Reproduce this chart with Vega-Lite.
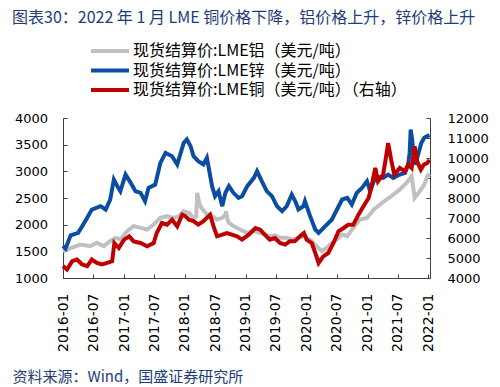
{
  "$schema": "https://vega.github.io/schema/vega-lite/v6.json",
  "width": 367,
  "height": 160,
  "autosize": "none",
  "padding": {"left": 63, "top": 118, "right": 70, "bottom": 109},
  "background": "white",
  "config": {
    "view": {"stroke": null},
    "font": "DejaVu Sans",
    "axis": {"grid": false, "domainColor": "#404040", "tickColor": "#404040", "labelColor": "#000000", "labelFont": "DejaVu Sans", "labelFontSize": 13}
  },
  "title": {
    "text": "图表30：2022 年 1 月 LME 铜价格下降，铝价格上升，锌价格上升",
    "anchor": "start",
    "frame": "group",
    "offset": 17,
    "dx": -51,
    "font": "Noto Sans CJK SC",
    "fontSize": 16,
    "fontWeight": "normal",
    "color": "#1E3C78"
  },
  "data": {
    "values": [
      {"d": "2016-01-01", "s": "Al", "v": 1500},
      {"d": "2016-02-16", "s": "Al", "v": 1560},
      {"d": "2016-04-13", "s": "Al", "v": 1628},
      {"d": "2016-06-13", "s": "Al", "v": 1597},
      {"d": "2016-07-22", "s": "Al", "v": 1660},
      {"d": "2016-09-01", "s": "Al", "v": 1597},
      {"d": "2016-10-10", "s": "Al", "v": 1690},
      {"d": "2016-11-10", "s": "Al", "v": 1753},
      {"d": "2016-12-10", "s": "Al", "v": 1722},
      {"d": "2017-01-19", "s": "Al", "v": 1878},
      {"d": "2017-02-28", "s": "Al", "v": 1972},
      {"d": "2017-04-10", "s": "Al", "v": 1940},
      {"d": "2017-05-19", "s": "Al", "v": 1909},
      {"d": "2017-06-28", "s": "Al", "v": 2003},
      {"d": "2017-08-07", "s": "Al", "v": 2128},
      {"d": "2017-09-16", "s": "Al", "v": 2159},
      {"d": "2017-10-25", "s": "Al", "v": 2128},
      {"d": "2017-11-25", "s": "Al", "v": 2159},
      {"d": "2017-12-25", "s": "Al", "v": 2253},
      {"d": "2018-01-25", "s": "Al", "v": 2222},
      {"d": "2018-02-22", "s": "Al", "v": 2128},
      {"d": "2018-03-10", "s": "Al", "v": 2150},
      {"d": "2018-03-16", "s": "Al", "v": 2597},
      {"d": "2018-03-28", "s": "Al", "v": 2409},
      {"d": "2018-04-10", "s": "Al", "v": 2315},
      {"d": "2018-05-13", "s": "Al", "v": 2190},
      {"d": "2018-06-13", "s": "Al", "v": 2159},
      {"d": "2018-07-13", "s": "Al", "v": 2097},
      {"d": "2018-08-13", "s": "Al", "v": 2128},
      {"d": "2018-09-01", "s": "Al", "v": 2180},
      {"d": "2018-09-04", "s": "Al", "v": 2253},
      {"d": "2018-09-13", "s": "Al", "v": 2100},
      {"d": "2018-09-22", "s": "Al", "v": 2034},
      {"d": "2018-10-19", "s": "Al", "v": 1972},
      {"d": "2018-11-28", "s": "Al", "v": 1909},
      {"d": "2019-01-10", "s": "Al", "v": 1847},
      {"d": "2019-02-19", "s": "Al", "v": 1878},
      {"d": "2019-03-28", "s": "Al", "v": 1847},
      {"d": "2019-04-25", "s": "Al", "v": 1816},
      {"d": "2019-05-25", "s": "Al", "v": 1784},
      {"d": "2019-06-25", "s": "Al", "v": 1797},
      {"d": "2019-07-25", "s": "Al", "v": 1753},
      {"d": "2019-09-04", "s": "Al", "v": 1753},
      {"d": "2019-10-04", "s": "Al", "v": 1724},
      {"d": "2019-11-13", "s": "Al", "v": 1753},
      {"d": "2019-12-13", "s": "Al", "v": 1784},
      {"d": "2020-01-01", "s": "Al", "v": 1753},
      {"d": "2020-02-01", "s": "Al", "v": 1690},
      {"d": "2020-03-01", "s": "Al", "v": 1597},
      {"d": "2020-04-01", "s": "Al", "v": 1503},
      {"d": "2020-05-01", "s": "Al", "v": 1565},
      {"d": "2020-06-01", "s": "Al", "v": 1660},
      {"d": "2020-07-01", "s": "Al", "v": 1722},
      {"d": "2020-08-01", "s": "Al", "v": 1816},
      {"d": "2020-09-01", "s": "Al", "v": 1784},
      {"d": "2020-10-07", "s": "Al", "v": 1940},
      {"d": "2020-11-16", "s": "Al", "v": 2097},
      {"d": "2020-12-28", "s": "Al", "v": 2128},
      {"d": "2021-02-07", "s": "Al", "v": 2284},
      {"d": "2021-03-16", "s": "Al", "v": 2378},
      {"d": "2021-04-25", "s": "Al", "v": 2472},
      {"d": "2021-06-04", "s": "Al", "v": 2565},
      {"d": "2021-07-13", "s": "Al", "v": 2659},
      {"d": "2021-08-22", "s": "Al", "v": 2784},
      {"d": "2021-09-22", "s": "Al", "v": 2909},
      {"d": "2021-10-10", "s": "Al", "v": 2503},
      {"d": "2021-11-10", "s": "Al", "v": 2628},
      {"d": "2021-12-07", "s": "Al", "v": 2753},
      {"d": "2021-12-25", "s": "Al", "v": 2909},
      {"d": "2022-01-07", "s": "Al", "v": 2950},

      {"d": "2016-01-01", "s": "Zn", "v": 1600},
      {"d": "2016-01-16", "s": "Zn", "v": 1550},
      {"d": "2016-02-16", "s": "Zn", "v": 1800},
      {"d": "2016-04-01", "s": "Zn", "v": 1847},
      {"d": "2016-05-13", "s": "Zn", "v": 2065},
      {"d": "2016-06-22", "s": "Zn", "v": 2284},
      {"d": "2016-08-13", "s": "Zn", "v": 2347},
      {"d": "2016-09-13", "s": "Zn", "v": 2284},
      {"d": "2016-10-10", "s": "Zn", "v": 2470},
      {"d": "2016-11-01", "s": "Zn", "v": 2847},
      {"d": "2016-11-22", "s": "Zn", "v": 2722},
      {"d": "2016-12-10", "s": "Zn", "v": 2628},
      {"d": "2017-01-10", "s": "Zn", "v": 2940},
      {"d": "2017-02-10", "s": "Zn", "v": 2784},
      {"d": "2017-03-10", "s": "Zn", "v": 2628},
      {"d": "2017-04-10", "s": "Zn", "v": 2597},
      {"d": "2017-05-07", "s": "Zn", "v": 2440},
      {"d": "2017-05-28", "s": "Zn", "v": 2690},
      {"d": "2017-07-07", "s": "Zn", "v": 2753},
      {"d": "2017-08-07", "s": "Zn", "v": 3159},
      {"d": "2017-09-07", "s": "Zn", "v": 3347},
      {"d": "2017-10-16", "s": "Zn", "v": 3284},
      {"d": "2017-11-16", "s": "Zn", "v": 3128},
      {"d": "2017-12-25", "s": "Zn", "v": 3534},
      {"d": "2018-01-13", "s": "Zn", "v": 3597},
      {"d": "2018-02-04", "s": "Zn", "v": 3472},
      {"d": "2018-02-22", "s": "Zn", "v": 3284},
      {"d": "2018-03-22", "s": "Zn", "v": 3190},
      {"d": "2018-04-22", "s": "Zn", "v": 3128},
      {"d": "2018-05-13", "s": "Zn", "v": 3253},
      {"d": "2018-06-13", "s": "Zn", "v": 2722},
      {"d": "2018-07-01", "s": "Zn", "v": 2534},
      {"d": "2018-07-22", "s": "Zn", "v": 2628},
      {"d": "2018-08-13", "s": "Zn", "v": 2347},
      {"d": "2018-09-01", "s": "Zn", "v": 2597},
      {"d": "2018-09-22", "s": "Zn", "v": 2722},
      {"d": "2018-10-19", "s": "Zn", "v": 2597},
      {"d": "2018-11-19", "s": "Zn", "v": 2503},
      {"d": "2018-12-10", "s": "Zn", "v": 2534},
      {"d": "2019-01-10", "s": "Zn", "v": 2722},
      {"d": "2019-02-19", "s": "Zn", "v": 2878},
      {"d": "2019-03-10", "s": "Zn", "v": 3003},
      {"d": "2019-04-07", "s": "Zn", "v": 2815},
      {"d": "2019-05-07", "s": "Zn", "v": 2628},
      {"d": "2019-06-07", "s": "Zn", "v": 2534},
      {"d": "2019-07-07", "s": "Zn", "v": 2347},
      {"d": "2019-08-07", "s": "Zn", "v": 2253},
      {"d": "2019-09-04", "s": "Zn", "v": 2347},
      {"d": "2019-10-04", "s": "Zn", "v": 2565},
      {"d": "2019-10-25", "s": "Zn", "v": 2440},
      {"d": "2019-11-13", "s": "Zn", "v": 2284},
      {"d": "2019-12-13", "s": "Zn", "v": 2347},
      {"d": "2019-12-22", "s": "Zn", "v": 2440},
      {"d": "2020-01-22", "s": "Zn", "v": 2159},
      {"d": "2020-02-22", "s": "Zn", "v": 1909},
      {"d": "2020-03-13", "s": "Zn", "v": 1847},
      {"d": "2020-04-22", "s": "Zn", "v": 1972},
      {"d": "2020-06-01", "s": "Zn", "v": 2097},
      {"d": "2020-07-01", "s": "Zn", "v": 2284},
      {"d": "2020-08-01", "s": "Zn", "v": 2472},
      {"d": "2020-09-01", "s": "Zn", "v": 2503},
      {"d": "2020-09-28", "s": "Zn", "v": 2378},
      {"d": "2020-10-28", "s": "Zn", "v": 2597},
      {"d": "2020-11-28", "s": "Zn", "v": 2690},
      {"d": "2020-12-28", "s": "Zn", "v": 2815},
      {"d": "2021-01-16", "s": "Zn", "v": 2628},
      {"d": "2021-02-07", "s": "Zn", "v": 2815},
      {"d": "2021-03-04", "s": "Zn", "v": 2900},
      {"d": "2021-04-04", "s": "Zn", "v": 2878},
      {"d": "2021-05-04", "s": "Zn", "v": 2940},
      {"d": "2021-06-04", "s": "Zn", "v": 2878},
      {"d": "2021-07-13", "s": "Zn", "v": 2940},
      {"d": "2021-08-13", "s": "Zn", "v": 2972},
      {"d": "2021-09-01", "s": "Zn", "v": 3128},
      {"d": "2021-09-10", "s": "Zn", "v": 3350},
      {"d": "2021-09-16", "s": "Zn", "v": 3784},
      {"d": "2021-09-25", "s": "Zn", "v": 3597},
      {"d": "2021-10-10", "s": "Zn", "v": 3128},
      {"d": "2021-10-28", "s": "Zn", "v": 3284},
      {"d": "2021-11-19", "s": "Zn", "v": 3534},
      {"d": "2021-12-07", "s": "Zn", "v": 3628},
      {"d": "2021-12-25", "s": "Zn", "v": 3660},
      {"d": "2022-01-07", "s": "Zn", "v": 3680},

      {"d": "2016-01-01", "s": "Cu", "v": 4592},
      {"d": "2016-01-25", "s": "Cu", "v": 4425},
      {"d": "2016-02-25", "s": "Cu", "v": 4842},
      {"d": "2016-03-25", "s": "Cu", "v": 4925},
      {"d": "2016-04-25", "s": "Cu", "v": 4675},
      {"d": "2016-05-25", "s": "Cu", "v": 4592},
      {"d": "2016-06-22", "s": "Cu", "v": 4925},
      {"d": "2016-07-22", "s": "Cu", "v": 4758},
      {"d": "2016-08-22", "s": "Cu", "v": 4675},
      {"d": "2016-09-22", "s": "Cu", "v": 4758},
      {"d": "2016-10-22", "s": "Cu", "v": 4842},
      {"d": "2016-11-04", "s": "Cu", "v": 5750},
      {"d": "2016-12-01", "s": "Cu", "v": 5500},
      {"d": "2017-01-01", "s": "Cu", "v": 5917},
      {"d": "2017-02-01", "s": "Cu", "v": 6083},
      {"d": "2017-02-28", "s": "Cu", "v": 5833},
      {"d": "2017-04-10", "s": "Cu", "v": 5750},
      {"d": "2017-05-19", "s": "Cu", "v": 5583},
      {"d": "2017-06-28", "s": "Cu", "v": 5750},
      {"d": "2017-07-16", "s": "Cu", "v": 6250},
      {"d": "2017-08-16", "s": "Cu", "v": 6750},
      {"d": "2017-09-16", "s": "Cu", "v": 6667},
      {"d": "2017-10-16", "s": "Cu", "v": 6917},
      {"d": "2017-11-16", "s": "Cu", "v": 6583},
      {"d": "2017-12-16", "s": "Cu", "v": 7167},
      {"d": "2018-01-04", "s": "Cu", "v": 7092},
      {"d": "2018-01-25", "s": "Cu", "v": 6917},
      {"d": "2018-02-22", "s": "Cu", "v": 6842},
      {"d": "2018-03-22", "s": "Cu", "v": 6667},
      {"d": "2018-04-22", "s": "Cu", "v": 6842},
      {"d": "2018-06-01", "s": "Cu", "v": 7167},
      {"d": "2018-06-22", "s": "Cu", "v": 6583},
      {"d": "2018-07-13", "s": "Cu", "v": 6083},
      {"d": "2018-08-13", "s": "Cu", "v": 6167},
      {"d": "2018-09-10", "s": "Cu", "v": 6250},
      {"d": "2018-10-10", "s": "Cu", "v": 6167},
      {"d": "2018-11-10", "s": "Cu", "v": 6083},
      {"d": "2018-12-10", "s": "Cu", "v": 5917},
      {"d": "2019-01-19", "s": "Cu", "v": 6167},
      {"d": "2019-02-28", "s": "Cu", "v": 6500},
      {"d": "2019-03-28", "s": "Cu", "v": 6417},
      {"d": "2019-04-25", "s": "Cu", "v": 6167},
      {"d": "2019-05-25", "s": "Cu", "v": 5917},
      {"d": "2019-06-25", "s": "Cu", "v": 6000},
      {"d": "2019-07-25", "s": "Cu", "v": 5750},
      {"d": "2019-08-25", "s": "Cu", "v": 5667},
      {"d": "2019-09-22", "s": "Cu", "v": 5833},
      {"d": "2019-10-22", "s": "Cu", "v": 5833},
      {"d": "2019-11-22", "s": "Cu", "v": 6083},
      {"d": "2019-12-16", "s": "Cu", "v": 6250},
      {"d": "2020-01-01", "s": "Cu", "v": 5917},
      {"d": "2020-02-01", "s": "Cu", "v": 5750},
      {"d": "2020-02-22", "s": "Cu", "v": 5250},
      {"d": "2020-03-13", "s": "Cu", "v": 4750},
      {"d": "2020-04-10", "s": "Cu", "v": 5083},
      {"d": "2020-05-10", "s": "Cu", "v": 5250},
      {"d": "2020-06-10", "s": "Cu", "v": 5750},
      {"d": "2020-07-10", "s": "Cu", "v": 6333},
      {"d": "2020-08-10", "s": "Cu", "v": 6500},
      {"d": "2020-09-07", "s": "Cu", "v": 6667},
      {"d": "2020-10-07", "s": "Cu", "v": 6667},
      {"d": "2020-11-07", "s": "Cu", "v": 7167},
      {"d": "2020-12-07", "s": "Cu", "v": 7583},
      {"d": "2021-01-07", "s": "Cu", "v": 8000},
      {"d": "2021-01-25", "s": "Cu", "v": 8600},
      {"d": "2021-02-16", "s": "Cu", "v": 9500},
      {"d": "2021-03-04", "s": "Cu", "v": 8833},
      {"d": "2021-04-04", "s": "Cu", "v": 9167},
      {"d": "2021-04-25", "s": "Cu", "v": 10250},
      {"d": "2021-05-04", "s": "Cu", "v": 10750},
      {"d": "2021-05-22", "s": "Cu", "v": 9917},
      {"d": "2021-06-10", "s": "Cu", "v": 9167},
      {"d": "2021-07-13", "s": "Cu", "v": 9500},
      {"d": "2021-08-13", "s": "Cu", "v": 9333},
      {"d": "2021-09-01", "s": "Cu", "v": 9667},
      {"d": "2021-09-22", "s": "Cu", "v": 9500},
      {"d": "2021-10-10", "s": "Cu", "v": 10583},
      {"d": "2021-10-25", "s": "Cu", "v": 9833},
      {"d": "2021-11-16", "s": "Cu", "v": 9417},
      {"d": "2021-12-04", "s": "Cu", "v": 9667},
      {"d": "2021-12-25", "s": "Cu", "v": 9750},
      {"d": "2022-01-07", "s": "Cu", "v": 9900}
    ]
  },
  "encoding": {
    "x": {
      "field": "d",
      "type": "temporal",
      "scale": {"type": "utc", "domain": [{"year": 2016, "month": 1, "date": 1, "utc": true}, {"year": 2022, "month": 1, "date": 10, "utc": true}]},
      "axis": {
        "values": [
          {"year": 2016, "month": 1, "date": 1, "utc": true},
          {"year": 2016, "month": 7, "date": 1, "utc": true},
          {"year": 2017, "month": 1, "date": 1, "utc": true},
          {"year": 2017, "month": 7, "date": 1, "utc": true},
          {"year": 2018, "month": 1, "date": 1, "utc": true},
          {"year": 2018, "month": 7, "date": 1, "utc": true},
          {"year": 2019, "month": 1, "date": 1, "utc": true},
          {"year": 2019, "month": 7, "date": 1, "utc": true},
          {"year": 2020, "month": 1, "date": 1, "utc": true},
          {"year": 2020, "month": 7, "date": 1, "utc": true},
          {"year": 2021, "month": 1, "date": 1, "utc": true},
          {"year": 2021, "month": 7, "date": 1, "utc": true},
          {"year": 2022, "month": 1, "date": 1, "utc": true}
        ],
        "format": "%Y-%m",
        "labelAngle": -90,
        "labelFontSize": 14,
        "tickSize": -4,
        "labelPadding": 19,
        "labelOverlap": false,
        "labelFlush": false,
        "title": "资料来源：Wind，国盛证券研究所",
        "titleFont": "Noto Sans CJK SC",
        "titleFontSize": 15,
        "titleFontWeight": "normal",
        "titleColor": "#1E3C78",
        "titleAnchor": null,
        "titleAlign": "left",
        "titleBaseline": "middle",
        "titleX": -51,
        "titleY": 98
      }
    },
    "color": {
      "field": "s",
      "type": "nominal",
      "scale": {"domain": ["Al", "Zn", "Cu"], "range": ["#C0C0C0", "#0B4DA2", "#C00000"]},
      "legend": {
        "title": null,
        "orient": "none",
        "legendX": 39,
        "legendY": -75,
        "symbolType": "M-4,0H4",
        "symbolSize": 90,
        "symbolStrokeWidth": 4,
        "symbolFillColor": "transparent",
        "labelFont": "Noto Sans CJK SC",
        "labelFontSize": 16,
        "labelColor": "#000000",
        "labelLimit": 400,
        "labelOffset": 15,
        "rowPadding": 3.5,
        "labelExpr": "datum.value == 'Al' ? '现货结算价:LME铝（美元/吨）' : datum.value == 'Zn' ? '现货结算价:LME锌（美元/吨）' : '现货结算价:LME铜（美元/吨）（右轴）'"
      }
    }
  },
  "layer": [
    {
      "transform": [{"filter": "datum.s != 'Cu'"}],
      "mark": {"type": "line", "strokeWidth": 4},
      "encoding": {
        "y": {
          "field": "v",
          "type": "quantitative",
          "scale": {"domain": [1000, 4000], "nice": false, "zero": false},
          "axis": {"values": [1000, 1500, 2000, 2500, 3000, 3500, 4000], "format": "d", "title": null, "tickSize": -4, "labelPadding": 19.5}
        }
      }
    },
    {
      "transform": [{"filter": "datum.s == 'Cu'"}],
      "mark": {"type": "line", "strokeWidth": 4},
      "encoding": {
        "y": {
          "field": "v",
          "type": "quantitative",
          "scale": {"domain": [4000, 12000], "nice": false, "zero": false},
          "axis": {"orient": "right", "values": [4000, 5000, 6000, 7000, 8000, 9000, 10000, 11000, 12000], "format": "d", "title": null, "tickSize": -4, "labelPadding": 21}
        }
      }
    }
  ],
  "resolve": {"scale": {"y": "independent"}}
}
